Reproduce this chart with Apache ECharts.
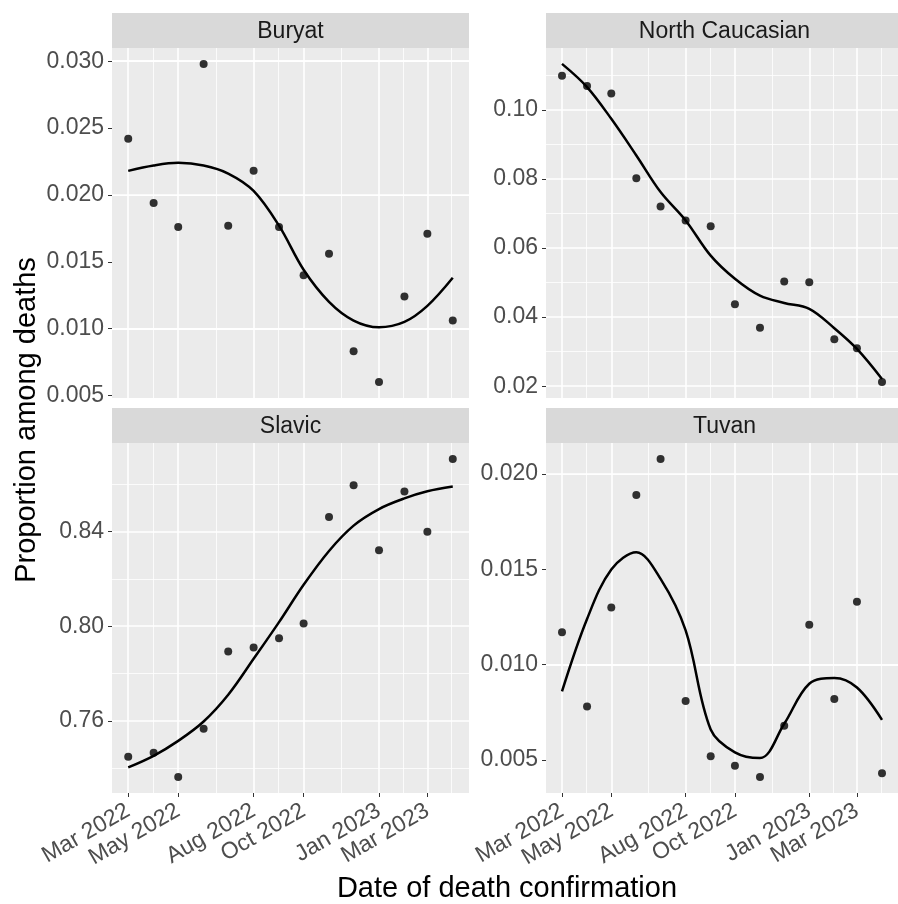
<!DOCTYPE html>
<html>
<head>
<meta charset="utf-8">
<script src="https://cdn.jsdelivr.net/npm/echarts@6/dist/echarts.min.js"></script>
<style>
  html, body { margin: 0; padding: 0; background: #fff; }
  #chart { width: 898px; height: 904px; }
</style>
</head>
<body>
<div id="chart"></div>
<script>
// monthly observations, Mar 2022 .. Apr 2023
const months = ['2022-03-01', '2022-04-01', '2022-05-01', '2022-06-01', '2022-07-01', '2022-08-01', '2022-09-01',
  '2022-10-01', '2022-11-01', '2022-12-01', '2023-01-01', '2023-02-01', '2023-03-01', '2023-04-01'];
const xBreaks = ['2022-03-01', '2022-05-01', '2022-08-01', '2022-10-01', '2023-01-01', '2023-03-01'];

const buryatObs = [0.0242, 0.0194, 0.0176, 0.0298, 0.0177, 0.0218, 0.0176, 0.0140, 0.0156, 0.0083, 0.0060, 0.0124, 0.0171, 0.0106];
const buryatFit = [0.0218, 0.0222, 0.0224, 0.0222, 0.0216, 0.0203, 0.0177, 0.0144, 0.0120, 0.0106, 0.0101, 0.0105, 0.0117, 0.0138];
const buryatTicks = ['0.005', '0.010', '0.015', '0.020', '0.025', '0.030'];

const ncObs = [0.1099, 0.1069, 0.1047, 0.0802, 0.0720, 0.0680, 0.0663, 0.0437, 0.0369, 0.0503, 0.0501, 0.0336, 0.0310, 0.0212];
const ncFit = [0.1133, 0.1066, 0.0974, 0.0868, 0.0762, 0.0680, 0.0578, 0.0511, 0.0462, 0.0441, 0.0424, 0.0368, 0.0308, 0.0221];
const ncTicks = ['0.02', '0.04', '0.06', '0.08', '0.10'];

const slavicObs = [0.7448, 0.7465, 0.7362, 0.7566, 0.7893, 0.7910, 0.7949, 0.8011, 0.8461, 0.8596, 0.8321, 0.8569, 0.8399, 0.8707];
const slavicFit = [0.7403, 0.7452, 0.7515, 0.7597, 0.7710, 0.7862, 0.8017, 0.8175, 0.8318, 0.8425, 0.8495, 0.8540, 0.8570, 0.8590];
const slavicTicks = ['0.76', '0.80', '0.84'];

const tuvanObs = [0.0117, 0.0078, 0.0130, 0.0189, 0.0208, 0.0081, 0.0052, 0.0047, 0.0041, 0.0068, 0.0121, 0.0082, 0.0133, 0.0043];
const tuvanFit = [0.0086, 0.0124, 0.0150, 0.0159, 0.0145, 0.0118, 0.0066, 0.0054, 0.0051, 0.0069, 0.0090, 0.0093, 0.0088, 0.0071];
const tuvanTicks = ['0.005', '0.010', '0.015', '0.020'];

const FONT = '"Liberation Sans", Arial, Helvetica, sans-serif';
const W = 357, H = 350, STRIP = 35;
const monthNames = ['Jan', 'Feb', 'Mar', 'Apr', 'May', 'Jun', 'Jul', 'Aug', 'Sep', 'Oct', 'Nov', 'Dec'];

const toTime = s => Date.parse(s + 'T00:00:00Z');
const fmtDate = v => {
  const d = new Date(v);
  return monthNames[d.getUTCMonth()] + ' ' + d.getUTCFullYear();
};

// ggplot style: 5% expansion, minor lines half way between breaks
function expand(vals) {
  const lo = Math.min(...vals), hi = Math.max(...vals);
  const pad = (hi - lo) * 0.05;
  return [lo - pad, hi + pad];
}
function minors(major, lo, hi) {
  const out = [];
  for (let i = 1; i < major.length; i++) out.push((major[i - 1] + major[i]) / 2);
  const n = major.length;
  out.push(major[0] - (major[1] - major[0]) / 2);
  out.push(major[n - 1] + (major[n - 1] - major[n - 2]) / 2);
  return out.filter(v => v > lo && v < hi);
}

const xs = months.map(toTime);
const [xMin, xMax] = expand(xs);
const xMajor = xBreaks.map(toTime);
const xMinor = minors(xMajor, xMin, xMax);

const panels = [
  { name: 'Buryat', obs: buryatObs, fit: buryatFit, ticks: buryatTicks, left: 112, top: 48, bottom: false },
  { name: 'North Caucasian', obs: ncObs, fit: ncFit, ticks: ncTicks, left: 546, top: 48, bottom: false },
  { name: 'Slavic', obs: slavicObs, fit: slavicFit, ticks: slavicTicks, left: 112, top: 443, bottom: true },
  { name: 'Tuvan', obs: tuvanObs, fit: tuvanFit, ticks: tuvanTicks, left: 546, top: 443, bottom: true }
];

const grid = [], xAxis = [], yAxis = [], series = [], graphic = [];

panels.forEach((p, i) => {
  const [yMin, yMax] = expand(p.obs.concat(p.fit));
  const yMajor = p.ticks.map(Number);
  const yMinor = minors(yMajor, yMin, yMax);

  grid.push({
    left: p.left, top: p.top, width: W, height: H,
    show: true, backgroundColor: '#EBEBEB', borderWidth: 0
  });

  xAxis.push({
    type: 'value', gridIndex: i, min: xMin, max: xMax,
    axisLine: { show: false },
    splitLine: { show: false },
    axisTick: {
      show: p.bottom, customValues: xMajor, length: 4,
      lineStyle: { color: '#333333', width: 1 }
    },
    axisLabel: {
      show: p.bottom, customValues: xMajor, formatter: fmtDate,
      rotate: 30, fontSize: 23, color: '#4D4D4D', fontFamily: FONT, margin: 16
    }
  });

  yAxis.push({
    type: 'value', gridIndex: i, min: yMin, max: yMax,
    axisLine: { show: false },
    splitLine: { show: false },
    axisTick: {
      show: true, customValues: yMajor, length: 4,
      lineStyle: { color: '#333333', width: 1 }
    },
    axisLabel: {
      customValues: yMajor,
      formatter: v => {
        const k = yMajor.findIndex(t => Math.abs(t - v) < 1e-9);
        return k >= 0 ? p.ticks[k] : '';
      },
      fontSize: 23, color: '#4D4D4D', fontFamily: FONT, margin: 8
    }
  });

  const gridLines = []
    .concat(xMajor.map(v => ({ xAxis: v, lineStyle: { width: 1.6 } })))
    .concat(xMinor.map(v => ({ xAxis: v, lineStyle: { width: 0.8 } })))
    .concat(yMajor.map(v => ({ yAxis: v, lineStyle: { width: 1.6 } })))
    .concat(yMinor.map(v => ({ yAxis: v, lineStyle: { width: 0.8 } })));

  series.push({
    type: 'scatter', name: p.name, xAxisIndex: i, yAxisIndex: i,
    data: p.obs.map((v, k) => [xs[k], v]),
    symbolSize: 8, itemStyle: { color: '#000' }, z: 4,
    markLine: {
      silent: true, symbol: ['none', 'none'], label: { show: false },
      lineStyle: { color: '#FFFFFF', type: 'solid' }, z: 1,
      emphasis: { disabled: true }, animation: false,
      data: gridLines
    }
  });

  series.push({
    type: 'line', name: p.name + ' fit', xAxisIndex: i, yAxisIndex: i,
    data: p.fit.map((v, k) => [xs[k], v]),
    smooth: 0.35, showSymbol: false, z: 3,
    lineStyle: { color: '#000', width: 2.5 }
  });

  // facet strip
  graphic.push({
    type: 'group', left: p.left, top: p.top - STRIP,
    children: [
      { type: 'rect', shape: { x: 0, y: 0, width: W, height: STRIP }, style: { fill: '#D9D9D9' } },
      {
        type: 'text', x: W / 2, y: STRIP / 2 + 1,
        style: { text: p.name, fontSize: 23, fontFamily: FONT, fill: '#1A1A1A', align: 'center', verticalAlign: 'middle' }
      }
    ]
  });
});

graphic.push({
  type: 'text', x: 507, y: 889,
  style: { text: 'Date of death confirmation', fontSize: 29, fontFamily: FONT, fill: '#000', align: 'center', verticalAlign: 'middle' }
});
graphic.push({
  type: 'text', x: 27, y: 420, rotation: Math.PI / 2,
  style: { text: 'Proportion among deaths', fontSize: 29, fontFamily: FONT, fill: '#000', align: 'center', verticalAlign: 'middle' }
});

const chart = echarts.init(document.getElementById('chart'));
chart.setOption({
  animation: false,
  grid: grid,
  xAxis: xAxis,
  yAxis: yAxis,
  series: series,
  graphic: graphic
});
</script>
</body>
</html>
